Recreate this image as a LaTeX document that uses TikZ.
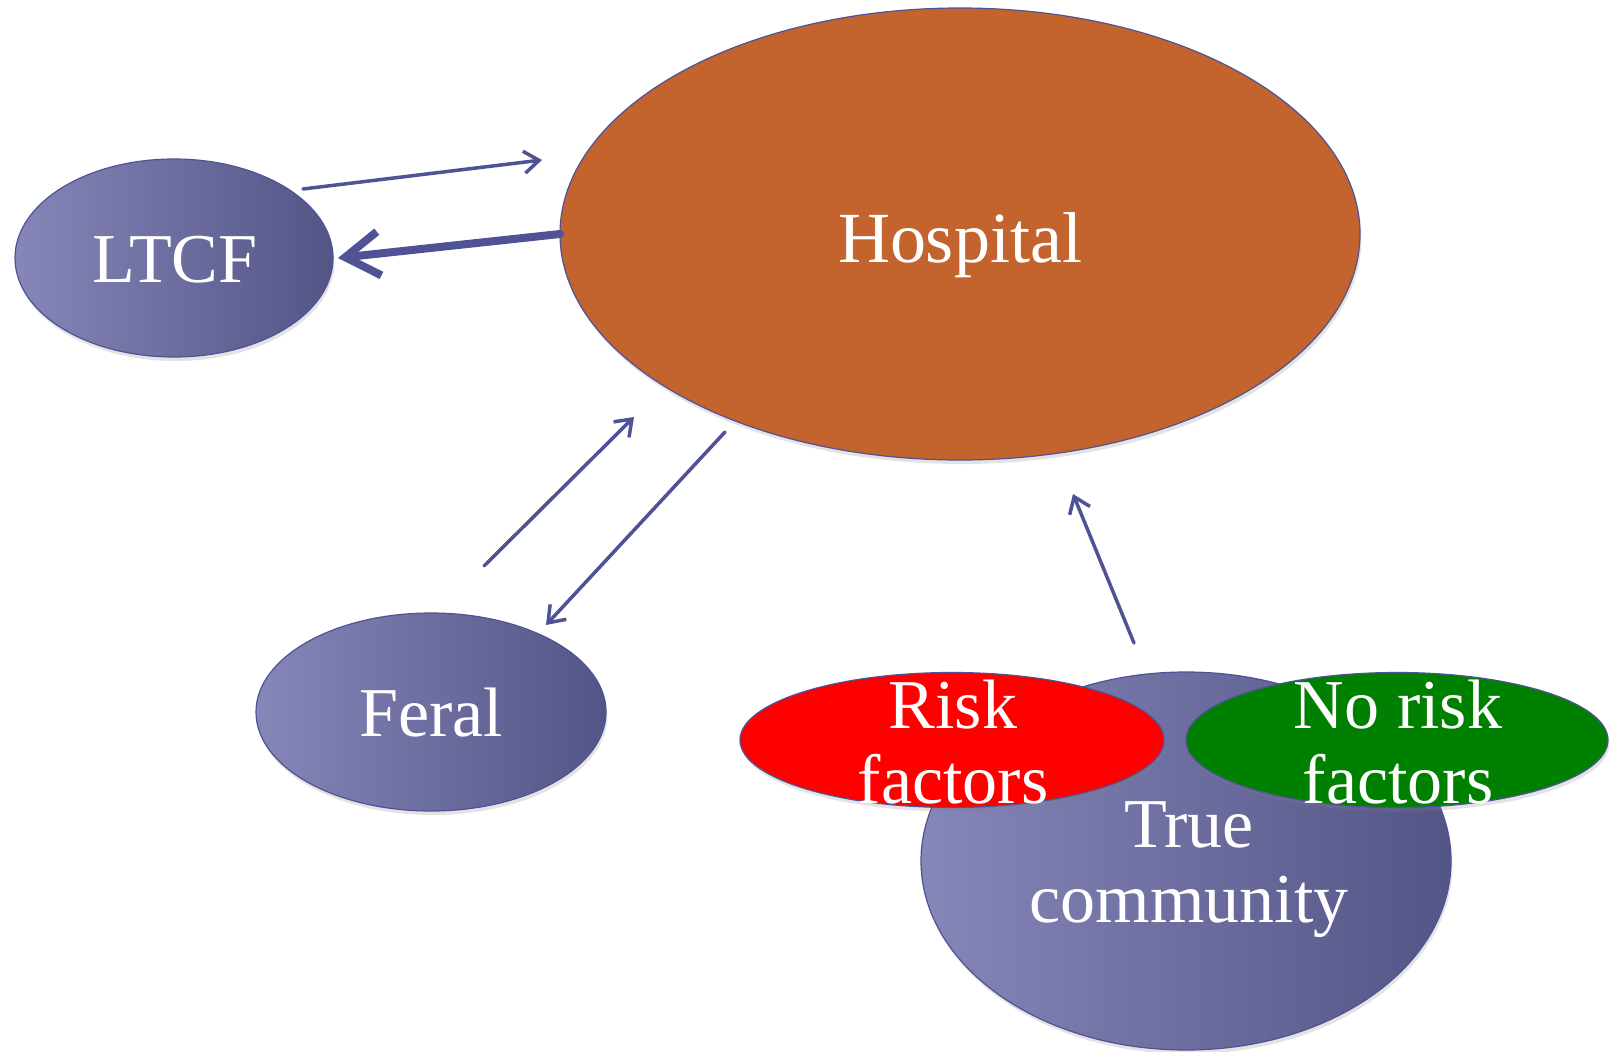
\documentclass[tikz,border=0pt]{standalone}
\usepackage{fontspec}
\setmainfont{Liberation Serif}
\usetikzlibrary{arrows.meta,shapes.geometric,shadows}
\definecolor{edgeblue}{RGB}{80,82,150}
\definecolor{blueL}{RGB}{134,134,184}
\definecolor{blueD}{RGB}{84,85,135}
\definecolor{hosp}{RGB}{195,100,46}
\definecolor{riskred}{RGB}{255,0,0}
\definecolor{norisk}{RGB}{0,128,0}
\begin{document}
\begin{tikzpicture}[x=1pt,y=-1pt,
  blob/.style={ellipse, draw=edgeblue, line width=1.2pt, inner sep=0pt,
    drop shadow={opacity=0.22,shadow xshift=1.5pt,shadow yshift=-4pt}},
  bluefill/.style={left color=blueL, right color=blueD},
  lbl/.style={text=white, font=\fontsize{70}{75}\selectfont, align=center, anchor=base, inner sep=0pt},
  flowarrow/.style={draw=edgeblue, line width=3.5pt, line cap=round,
    -{Straight Barb[length=15pt,width=22pt]}},
  bigarrow/.style={draw=edgeblue, line width=8pt, line cap=round,
    -{Straight Barb[length=34pt,width=44pt]}}
]
\useasboundingbox (0,0) rectangle (1610,1052);
\fill[white] (0,0) rectangle (1610,1052);

% ellipses
\node[blob, fill=hosp, minimum width=800pt, minimum height=452pt] (hospital) at (960,234) {};
\node[blob, bluefill, minimum width=318pt, minimum height=198pt] (ltcf) at (174,258) {};
\node[blob, bluefill, minimum width=350pt, minimum height=198pt] (feral) at (431,712) {};
\node[blob, bluefill, minimum width=530pt, minimum height=378pt] (community) at (1186,861) {};
\node[blob, fill=riskred, minimum width=424pt, minimum height=135pt] (risk) at (952,740) {};
\node[blob, fill=norisk, minimum width=422pt, minimum height=135pt] (norisk) at (1397,740) {};

% labels (anchor=base is the baseline of the last line)
\node[lbl, font=\fontsize{72}{75}\selectfont] (hosptxt) at (960,262) {Hospital};
\node[lbl] (ltcftxt) at (175,282) {LTCF};
\node[lbl] (feraltxt) at (431,736) {Feral};
\node[lbl] (risktxt) at (953,803) {Risk\\factors};
\node[lbl] (norisktxt) at (1398,803) {No risk\\factors};
\node[lbl] (commtxt) at (1189,922) {True\\community};

% arrow end points
\coordinate (a1s) at (303,189);
\coordinate (a1e) at (542,160);
\coordinate (a2s) at (560,234);
\coordinate (a2e) at (338,258);
\coordinate (a3s) at (484,566);
\coordinate (a3e) at (634,417);
\coordinate (a4s) at (725,432);
\coordinate (a4e) at (546,625);
\coordinate (a5s) at (1134,643);
\coordinate (a5e) at (1073,494);

\draw[flowarrow] (a1s) -- (a1e);
\draw[bigarrow] (a2s) -- (a2e);
\draw[flowarrow] (a3s) -- (a3e);
\draw[flowarrow] (a4s) -- (a4e);
\draw[flowarrow] (a5s) -- (a5e);
\end{tikzpicture}
\end{document}
